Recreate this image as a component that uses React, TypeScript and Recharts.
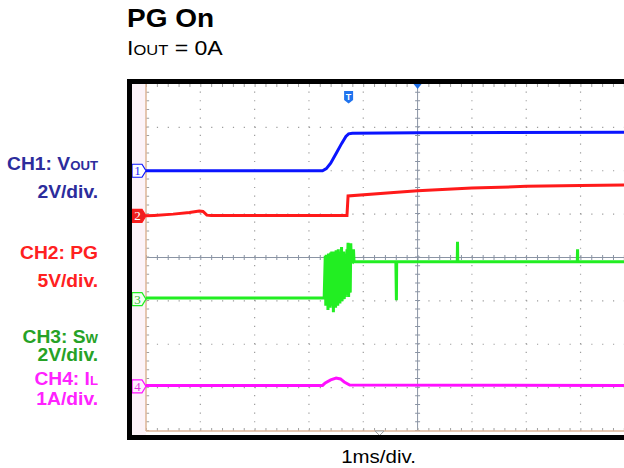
import React from 'react';
import { LineChart, Line, XAxis, YAxis, ReferenceLine, ReferenceDot } from 'recharts';

// time in ms relative to the trigger (centre graticule line), 1ms/div
const timeDomain = [-5, 3.8];
const divDomain = [-4, 4];
const vGridTimes = [-4, -3, -2, -1, 1, 2, 3];
const hGridDivs = [-3, -2, -1, 1, 2, 3];

// CH1: Vout (V)
const voutData = [
  { t: -5, v: 0 },
  { t: -1.75, v: 0 },
  { t: -1.68, v: 0.1 },
  { t: -1.6, v: 0.35 },
  { t: -1.5, v: 0.8 },
  { t: -1.4, v: 1.25 },
  { t: -1.32, v: 1.58 },
  { t: -1.27, v: 1.7 },
  { t: -1.2, v: 1.73 },
  { t: 0, v: 1.75 },
  { t: 3.8, v: 1.77 },
];

// CH2: PG (V)
const pgData = [
  { t: -5, v: 0 },
  { t: -4.85, v: 0.05 },
  { t: -4.5, v: 0.2 },
  { t: -4.2, v: 0.4 },
  { t: -4.02, v: 0.55 },
  { t: -3.95, v: 0.5 },
  { t: -3.88, v: 0.08 },
  { t: -3.8, v: 0.03 },
  { t: -1.3, v: 0.03 },
  { t: -1.28, v: 2.3 },
  { t: -0.5, v: 2.65 },
  { t: 0, v: 2.9 },
  { t: 1, v: 3.2 },
  { t: 2, v: 3.4 },
  { t: 3, v: 3.5 },
  { t: 3.8, v: 3.57 },
];

// CH3: SW (V)
const swData = [
  { t: -5, v: 0.05 }, { t: -1.72, v: 0.05 },
  { t: -1.7, v: 2.0 }, { t: -1.69, v: -0.3 }, { t: -1.68, v: 2.05 }, { t: -1.67, v: 0.0 },
  { t: -1.66, v: 2.0 }, { t: -1.65, v: -0.5 }, { t: -1.64, v: 2.1 }, { t: -1.63, v: -0.2 },
  { t: -1.62, v: 2.0 }, { t: -1.61, v: -0.4 }, { t: -1.6, v: 2.15 }, { t: -1.59, v: -0.1 },
  { t: -1.58, v: 2.2 }, { t: -1.57, v: -0.3 }, { t: -1.56, v: 2.05 }, { t: -1.55, v: -0.6 },
  { t: -1.54, v: 2.2 }, { t: -1.53, v: -0.2 }, { t: -1.52, v: 2.1 }, { t: -1.51, v: -0.4 },
  { t: -1.5, v: 2.25 }, { t: -1.49, v: -0.1 }, { t: -1.48, v: 2.0 }, { t: -1.47, v: -0.3 },
  { t: -1.46, v: 2.3 }, { t: -1.45, v: 0.0 }, { t: -1.44, v: 2.1 }, { t: -1.43, v: -0.2 },
  { t: -1.42, v: 2.2 }, { t: -1.41, v: 0.1 }, { t: -1.4, v: 2.4 }, { t: -1.39, v: -0.1 },
  { t: -1.38, v: 2.1 }, { t: -1.37, v: 0.0 }, { t: -1.36, v: 2.2 }, { t: -1.35, v: 0.0 },
  { t: -1.34, v: 2.1 }, { t: -1.33, v: 0.1 }, { t: -1.32, v: 2.0 }, { t: -1.31, v: 0.2 },
  { t: -1.3, v: 2.3 }, { t: -1.29, v: 1.75 }, { t: -1.28, v: 2.6 }, { t: -1.27, v: 0.1 },
  { t: -1.26, v: 1.8 }, { t: -1.25, v: 2.2 }, { t: -1.24, v: 0.3 }, { t: -1.23, v: 2.58 },
  { t: -1.22, v: 1.75 }, { t: -1.2, v: 1.72 }, { t: -1.18, v: 2.3 }, { t: -1.17, v: 1.72 },
  { t: -0.4, v: 1.72 }, { t: -0.39, v: -0.05 }, { t: -0.385, v: 1.72 },
  { t: 0.73, v: 1.72 }, { t: 0.735, v: 2.65 }, { t: 0.74, v: 1.72 },
  { t: 2.94, v: 1.72 }, { t: 2.945, v: 2.3 }, { t: 2.95, v: 1.72 },
  { t: 3.8, v: 1.72 },
];

// CH4: IL (A)
const ilData = [
  { t: -5, v: 0.02 },
  { t: -1.75, v: 0.02 },
  { t: -1.7, v: 0.08 },
  { t: -1.6, v: 0.15 },
  { t: -1.5, v: 0.19 },
  { t: -1.42, v: 0.17 },
  { t: -1.35, v: 0.1 },
  { t: -1.25, v: 0.03 },
  { t: 3.8, v: 0.02 },
];

const channels = [
  { key: 'ch1', label: '1', data: voutData, perDiv: 2, offset: 2.0, color: '#0a14ff', fill: '#ffffff', text: '#1a2aff' },
  { key: 'ch2', label: '2', data: pgData, perDiv: 5, offset: 0.96, color: '#ff1a1a', fill: '#ee2020', text: '#ffffff' },
  { key: 'ch3', label: '3', data: swData, perDiv: 2, offset: -0.96, color: '#22ee22', fill: '#f2fff2', text: '#33bb33' },
  { key: 'ch4', label: '4', data: ilData, perDiv: 1, offset: -2.97, color: '#ff10ff', fill: '#fff0ff', text: '#dd33dd' },
];

const labelRows = [
  { main: 'CH1: V', sub: 'OUT', y: 170, color: '#2c2c9c' },
  { main: '2V/div.', sub: '', y: 198, color: '#2c2c9c' },
  { main: 'CH2: PG', sub: '', y: 259, color: '#ff2020' },
  { main: '5V/div.', sub: '', y: 286.5, color: '#ff2020' },
  { main: 'CH3: S', sub: 'W', y: 342.5, color: '#26a226' },
  { main: '2V/div.', sub: '', y: 360.5, color: '#26a226' },
  { main: 'CH4: I', sub: 'L', y: 385, color: '#ff22ff' },
  { main: '1A/div.', sub: '', y: 405, color: '#ff22ff' },
];

const triggerTime = -1.27;
const triggerLevelDiv = 3.7;
const delayMarkerTime = -0.7;

const FONT = 'Liberation Sans, Arial, Helvetica, sans-serif';

const ChannelMarker = ({ cx, cy, ch }: any) => (
  <g>
    <polygon
      points={`${cx - 14},${cy - 6.5} ${cx - 4},${cy - 6.5} ${cx},${cy} ${cx - 4},${cy + 6.5} ${cx - 14},${cy + 6.5}`}
      fill={ch.fill}
      stroke={ch.color}
      strokeWidth={1.2}
    />
    <text x={cx - 8.5} y={cy + 4.5} textAnchor="middle" fontSize={13} fontFamily="Liberation Serif, serif" fill={ch.text}>
      {ch.label}
    </text>
  </g>
);

const TriggerArrow = ({ cx, cy }: any) => (
  <polygon points={`${cx - 4},${cy} ${cx + 4},${cy} ${cx},${cy + 5}`} fill="#2070e8" />
);

const TriggerT = ({ cx, cy }: any) => (
  <g>
    <path d={`M${cx - 4.5},${cy - 6} H${cx + 4.5} V${cy + 3} L${cx},${cy + 6.5} L${cx - 4.5},${cy + 3} Z`} fill="#2073ee" />
    <text x={cx} y={cy + 3} textAnchor="middle" fontSize={9} fontWeight="bold" fontFamily={FONT} fill="#ffffff">
      T
    </text>
  </g>
);

const DelayMarker = ({ cx, cy }: any) => (
  <polygon points={`${cx - 4.5},${cy} ${cx + 4.5},${cy} ${cx},${cy + 4.5}`} fill="#ffffff" stroke="#9a9a9a" strokeWidth={1} />
);

export default function App() {
  const series = channels.map((ch) => ({
    ...ch,
    points: ch.data.map((p) => ({ t: p.t, y: ch.offset + p.v / ch.perDiv })),
  }));

  return (
    <div style={{ position: 'fixed', left: 0, top: 0, width: 624, height: 468, overflow: 'hidden', background: '#fff' }}>
      <style>{'html,body{margin:0;overflow:hidden;}'}</style>
      <div
        style={{
          position: 'absolute',
          left: 127,
          top: 79,
          width: 492,
          height: 351,
          borderTop: '5px solid #000',
          borderLeft: '5px solid #000',
          borderBottom: '5px solid #000',
          background: 'linear-gradient(to right, #fcf3f8 14px, #ffffff 14px)',
        }}
      >
        <LineChart width={492} height={351} margin={{ top: 0, right: 0, bottom: 4, left: 14 }}>
          <XAxis type="number" dataKey="t" domain={timeDomain} hide allowDataOverflow />
          <YAxis type="number" domain={divDomain} hide allowDataOverflow />

          {vGridTimes.map((t) => (
            <ReferenceLine key={`vg${t}`} x={t} stroke="#9c9c9c" strokeWidth={1.2} strokeDasharray="1.2 7.475" />
          ))}
          {hGridDivs.map((d) => (
            <ReferenceLine key={`hg${d}`} y={d} stroke="#9c9c9c" strokeWidth={1.2} strokeDasharray="1.2 9.66" />
          ))}
          <ReferenceLine x={0} stroke="#8a94a4" strokeWidth={1} />
          <ReferenceLine x={0} stroke="#8a94a4" strokeWidth={5} strokeDasharray="1 7.675" />
          <ReferenceLine y={0} stroke="#8a94a4" strokeWidth={1} />
          <ReferenceLine y={0} stroke="#8a94a4" strokeWidth={5} strokeDasharray="1 9.86" />
          <ReferenceLine y={3.965} stroke="#a0a0a0" strokeWidth={3} strokeDasharray="1 9.86" />
          <ReferenceLine y={-3.965} stroke="#a0a0a0" strokeWidth={3} strokeDasharray="1 9.86" />
          <ReferenceLine x={-4.97} stroke="#a0a0a0" strokeWidth={3} strokeDasharray="1 7.675" />
          <ReferenceLine x={-5} stroke="#dcb597" strokeWidth={1.5} />
          <ReferenceLine y={-4} stroke="#dcb597" strokeWidth={1.5} />

          {series.map((s) => (
            <Line
              key={s.key}
              data={s.points}
              dataKey="y"
              type="linear"
              stroke={s.color}
              strokeWidth={3}
              dot={false}
              activeDot={false}
              isAnimationActive={false}
            />
          ))}

          {series.map((s) => (
            <ReferenceDot
              key={`m${s.key}`}
              x={-5}
              y={s.offset}
              r={0}
              shape={(p: any) => <ChannelMarker cx={p.cx} cy={p.cy} ch={s} />}
            />
          ))}
          <ReferenceDot x={0} y={4} r={0} shape={(p: any) => <TriggerArrow cx={p.cx} cy={p.cy} />} />
          <ReferenceDot x={triggerTime} y={triggerLevelDiv} r={0} shape={(p: any) => <TriggerT cx={p.cx} cy={p.cy} />} />
          <ReferenceDot x={delayMarkerTime} y={-4} r={0} shape={(p: any) => <DelayMarker cx={p.cx} cy={p.cy} />} />
        </LineChart>
      </div>

      <svg
        width={624}
        height={468}
        style={{ position: 'absolute', left: 0, top: 0, pointerEvents: 'none' }}
        fontFamily={FONT}
      >
        <text transform="translate(127 26.7) scale(1.12 1)" fontSize={25} fontWeight="bold" fill="#000">
          PG On
        </text>
        <text transform="translate(127 55) scale(1.1 1)" fontSize={21} fill="#000">
          I<tspan fontSize={15}>OUT</tspan> = 0A
        </text>
        {labelRows.map((r, i) => (
          <text
            key={i}
            transform={`translate(98 ${r.y}) scale(1.1 1)`}
            textAnchor="end"
            fontSize={17.5}
            fontWeight="bold"
            fill={r.color}
          >
            {r.main}
            {r.sub ? <tspan fontSize={12}>{r.sub}</tspan> : null}
          </text>
        ))}
        <text transform="translate(378.5 462.5) scale(1.17 1)" textAnchor="middle" fontSize={17.5} fill="#000">
          1ms/div.
        </text>
      </svg>
    </div>
  );
}
